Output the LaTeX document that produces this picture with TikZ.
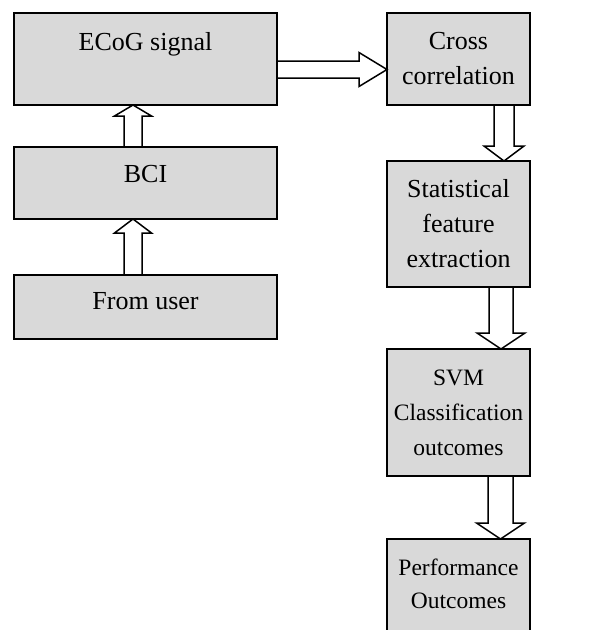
\documentclass[tikz,border=0pt]{standalone}
\usepackage{fontspec}
\setmainfont{Liberation Serif}
\usetikzlibrary{positioning,calc}
\definecolor{boxgray}{RGB}{217,217,217}

% hollow block arrows: from, to, offset from centre, half shaft, half head, head length
\newcommand{\uparr}[6]{%
  \draw[hollow] ($(#1.north)+(#3-#4,0)$) -- ($(#2.south)+(#3-#4,-#6)$)
    -- ($(#2.south)+(#3-#5,-#6)$) -- ($(#2.south)+(#3,0)$)
    -- ($(#2.south)+(#3+#5,-#6)$) -- ($(#2.south)+(#3+#4,-#6)$)
    -- ($(#1.north)+(#3+#4,0)$);}
\newcommand{\downarr}[6]{%
  \draw[hollow] ($(#1.south)+(#3-#4,0)$) -- ($(#2.north)+(#3-#4,#6)$)
    -- ($(#2.north)+(#3-#5,#6)$) -- ($(#2.north)+(#3,0)$)
    -- ($(#2.north)+(#3+#5,#6)$) -- ($(#2.north)+(#3+#4,#6)$)
    -- ($(#1.south)+(#3+#4,0)$);}

\begin{document}
\begin{tikzpicture}[x=1pt, y=1pt,
  box/.style={draw, line width=1.5pt, fill=boxgray, outer sep=0pt,
              font=\fontsize{26}{35}\selectfont},
  wide/.style={box, minimum width=263pt, inner ysep=0pt},
  narrow/.style={box, text width=140pt, inner xsep=1.5pt, align=center},
  small/.style={font=\fontsize{23.5}{35}\selectfont},
  hollow/.style={line width=1.5pt, line join=miter}
]
  \clip (0,0) rectangle (608,-630);

  % left column
  \node[wide, anchor=north west, text height=37pt, text depth=55pt] (ecog) at (14,-13) {ECoG signal};
  \node[wide, below=42pt of ecog, text height=35pt, text depth=37pt] (bci)  {BCI};
  \node[wide, below=56pt of bci,  text height=34pt, text depth=30pt] (user) {From user};

  % right column
  \node[narrow, right=110pt of ecog, minimum height=92pt] (cross) {Cross\\correlation};
  \node[narrow, below=56pt of cross, minimum height=126pt] (stat) {Statistical\\feature\\extraction};
  \node[narrow, small, below=62pt of stat, minimum height=127pt] (svm) {SVM\\Classification\\outcomes};
  % runs off the bottom edge
  \node[narrow, small, below=63pt of svm, inner ysep=0pt, text height=36pt, text depth=80pt,
        font=\fontsize{23.5}{33}\selectfont] (perf) {Performance\\Outcomes};

  \uparr{user}{bci}{-12.5}{9}{18.5}{14}
  \uparr{bci}{ecog}{-12.5}{9}{18.5}{11}

  \draw[hollow] ($(ecog.east)+(0,-2)$) -- ($(cross.west)+(-28,-2)$)
    -- ($(cross.west)+(-28,6.5)$) -- ($(cross.west)+(0,-10.5)$)
    -- ($(cross.west)+(-28,-27.5)$) -- ($(cross.west)+(-28,-19)$)
    -- ($(ecog.east)+(0,-19)$);

  \downarr{cross}{stat}{45.5}{10}{20}{15}
  \downarr{stat}{svm}{42.5}{12}{24}{16}
  \downarr{svm}{perf}{42}{12.5}{24}{16}
\end{tikzpicture}
\end{document}
